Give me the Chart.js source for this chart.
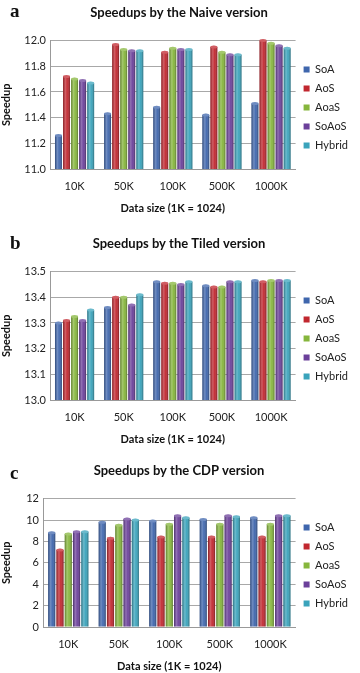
<!DOCTYPE html>
<html>
<head>
<meta charset="utf-8">
<script src="https://cdn.jsdelivr.net/npm/chart.js@4.4.1/dist/chart.umd.min.js"></script>
<style>
  body { margin: 0; background: #fff; }
  #page { position: relative; width: 360px; height: 673px; overflow: hidden; }
  .panel { position: absolute; left: 0; width: 360px; height: 215px; }
  .letter { position: absolute; left: 10px; font: bold 19px "Liberation Serif", "DejaVu Serif", serif; color: #111; }
</style>
</head>
<body>
<div id="page">
  <div class="panel" style="top:0px"><canvas id="naiveChart"></canvas></div>
  <div class="panel" style="top:231px"><canvas id="tiledChart"></canvas></div>
  <div class="panel" style="top:458px"><canvas id="cdpChart"></canvas></div>
  <div class="letter" style="top:0px">a</div>
  <div class="letter" style="top:232px">b</div>
  <div class="letter" style="top:462px">c</div>
</div>
<script>
// Categories and series
const dataSizes = ["10K", "50K", "100K", "500K", "1000K"];
const layouts = ["SoA", "AoS", "AoaS", "SoAoS", "Hybrid"];
const layoutColors = ["#3f66ad", "#c1272f", "#86b63c", "#6b409a", "#3aa3bb"];

// (a) Naive version
const naiveSoA    = [11.26, 11.43, 11.48, 11.42, 11.51];
const naiveAoS    = [11.72, 11.97, 11.91, 11.95, 12.00];
const naiveAoaS   = [11.70, 11.93, 11.94, 11.91, 11.98];
const naiveSoAoS  = [11.69, 11.92, 11.93, 11.89, 11.96];
const naiveHybrid = [11.67, 11.92, 11.93, 11.89, 11.94];

// (b) Tiled version
const tiledSoA    = [13.30, 13.36, 13.46, 13.445, 13.465];
const tiledAoS    = [13.31, 13.40, 13.455, 13.44, 13.46];
const tiledAoaS   = [13.325, 13.40, 13.455, 13.44, 13.465];
const tiledSoAoS  = [13.31, 13.37, 13.45, 13.46, 13.465];
const tiledHybrid = [13.35, 13.41, 13.46, 13.46, 13.465];

// (c) CDP version
const cdpSoA    = [8.8, 9.8, 9.9, 10.05, 10.2];
const cdpAoS    = [7.2, 8.3, 8.4, 8.4, 8.4];
const cdpAoaS   = [8.7, 9.5, 9.6, 9.6, 9.6];
const cdpSoAoS  = [8.9, 10.1, 10.4, 10.4, 10.4];
const cdpHybrid = [8.9, 10.0, 10.2, 10.3, 10.4];

const FONT = "Lato, 'Open Sans', sans-serif";

// Give each bar a rounded, cylinder-like shading
const cylinderPlugin = {
    id: "cylinder",
    afterDatasetsDraw(chart) {
        const ctx = chart.ctx;
        const area = chart.chartArea;
        chart.data.datasets.forEach((ds, di) => {
            const meta = chart.getDatasetMeta(di);
            meta.data.forEach((bar) => {
                const { x, y, base, width } = bar.getProps(["x", "y", "base", "width"], true);
                const bottom = Math.min(base, area.bottom);
                const left = x - width / 2;
                const g = ctx.createLinearGradient(left, 0, left + width, 0);
                g.addColorStop(0, "rgba(0,0,0,0.30)");
                g.addColorStop(0.35, "rgba(255,255,255,0.25)");
                g.addColorStop(0.6, "rgba(255,255,255,0.05)");
                g.addColorStop(1, "rgba(0,0,0,0.35)");
                ctx.save();
                ctx.fillStyle = g;
                ctx.fillRect(left, y, width, bottom - y);
                ctx.beginPath();
                ctx.ellipse(x, y, width / 2, 1.5, 0, 0, Math.PI * 2);
                ctx.fillStyle = ds.backgroundColor;
                ctx.fill();
                ctx.fillStyle = "rgba(255,255,255,0.25)";
                ctx.fill();
                ctx.restore();
            });
        });
    }
};

function buildChart(canvasId, titleText, series, yMin, yMax, yStep, decimals, yWidth) {
    const ctx = document.getElementById(canvasId).getContext("2d");
    return new Chart(ctx, {
        type: "bar",
        data: {
            labels: dataSizes,
            datasets: layouts.map((name, i) => ({
                label: name,
                data: series[i],
                backgroundColor: layoutColors[i],
                borderWidth: 0,
                barPercentage: 0.86,
                categoryPercentage: 0.82
            }))
        },
        options: {
            responsive: true,
            maintainAspectRatio: false,
            animation: false,
            layout: { padding: { left: 0, right: 2, top: 0, bottom: 0 } },
            plugins: {
                title: {
                    display: true,
                    text: titleText,
                    color: "#111",
                    font: { family: FONT, size: 13, weight: "bold" },
                    padding: { top: 5, bottom: 20 }
                },
                legend: {
                    position: "right",
                    labels: {
                        color: "#222",
                        font: { family: FONT, size: 11 },
                        boxWidth: 6,
                        boxHeight: 6,
                        padding: 8
                    }
                },
                tooltip: { enabled: false }
            },
            scales: {
                x: {
                    grid: { display: false, drawTicks: false },
                    border: { display: true, color: "#999" },
                    ticks: { color: "#222", font: { family: FONT, size: 11 }, padding: 11 },
                    title: {
                        display: true,
                        text: "Data size (1K = 1024)",
                        color: "#111",
                        font: { family: FONT, size: 11, weight: "bold" },
                        padding: 0
                    },
                    afterFit(scale) { scale.height = 46; }
                },
                y: {
                    min: yMin,
                    max: yMax,
                    grid: { color: "#a8a8a8", drawTicks: false },
                    border: { display: true, color: "#999" },
                    ticks: {
                        stepSize: yStep,
                        padding: 4,
                        color: "#222",
                        font: { family: FONT, size: 11 },
                        callback: (v) => v.toFixed(decimals)
                    },
                    title: {
                        display: true,
                        text: "Speedup",
                        color: "#111",
                        font: { family: FONT, size: 11, weight: "bold" },
                        padding: 0
                    },
                    afterFit(scale) { scale.width = yWidth; }
                }
            }
        },
        plugins: [cylinderPlugin]
    });
}

buildChart("naiveChart", "Speedups by the Naive version",
    [naiveSoA, naiveAoS, naiveAoaS, naiveSoAoS, naiveHybrid], 11.0, 12.0, 0.2, 1, 50);
buildChart("tiledChart", "Speedups by the Tiled version",
    [tiledSoA, tiledAoS, tiledAoaS, tiledSoAoS, tiledHybrid], 13.0, 13.5, 0.1, 1, 50);
buildChart("cdpChart", "Speedups by the CDP version",
    [cdpSoA, cdpAoS, cdpAoaS, cdpSoAoS, cdpHybrid], 0, 12, 2, 0, 43);
</script>
</body>
</html>
